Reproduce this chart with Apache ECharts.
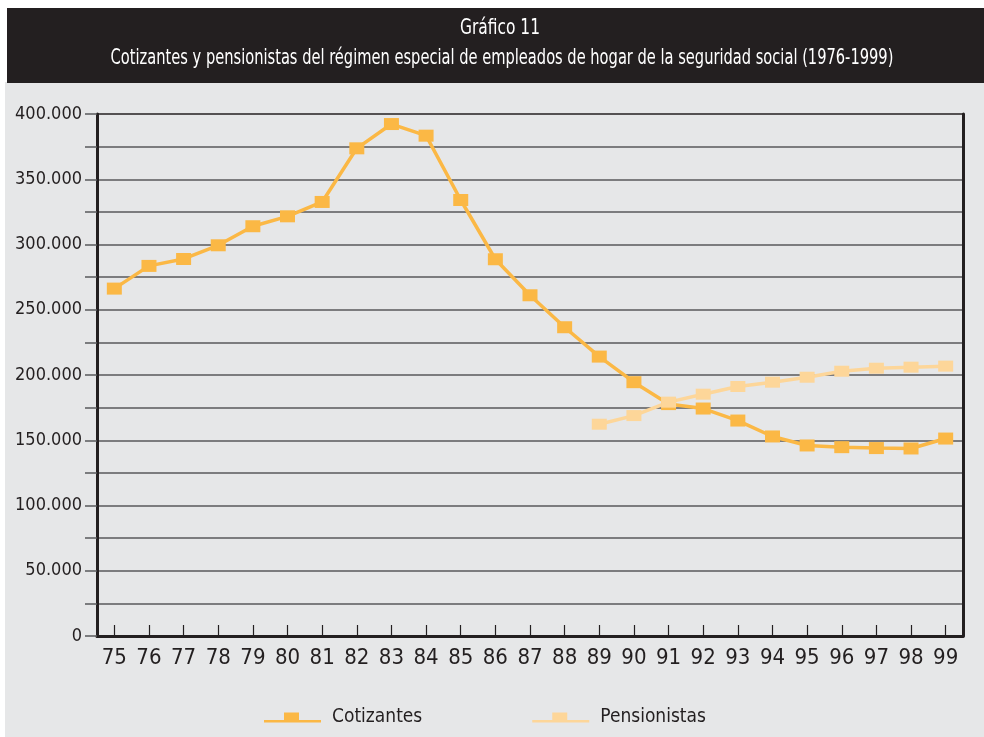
<!DOCTYPE html>
<html>
<head>
<meta charset="utf-8">
<script src="https://cdn.jsdelivr.net/npm/echarts@6/dist/echarts.min.js"></script>
<style>
  html, body { margin: 0; padding: 0; background: #ffffff; }
  #chart { width: 984px; height: 737px; }
</style>
</head>
<body>
<div id="chart"></div>
<script>
// Años (1975-1999) en el eje horizontal
const years = ['75','76','77','78','79','80','81','82','83','84','85','86','87','88','89','90','91','92','93','94','95','96','97','98','99'];

// Afiliados cotizantes al régimen especial de empleados de hogar
const cotizantes = [266200, 283600, 288900, 299400, 314000, 321600, 332600, 373700, 392300, 383400,
                    334100, 288700, 261100, 236600, 214100, 194500, 177700, 174300, 165100, 152900,
                    146000, 144700, 144000, 143700, 151300];

// Pensionistas del mismo régimen (serie disponible desde 1989)
const pensionistas = [null, null, null, null, null, null, null, null, null, null,
                      null, null, null, null, 162300, 168900, 179200, 185300, 191200, 194500,
                      198300, 202900, 205200, 206000, 206800];

const titleLine1 = 'Gráfico 11';
const titleLine2 = 'Cotizantes y pensionistas del régimen especial de empleados de hogar de la seguridad social (1976-1999)';

const FONT = "'DejaVu Sans Condensed', 'DejaVu Sans', sans-serif";
const INK = '#231f20';
const GRID = '#58595b';
const C_COT = '#fbb845';
const C_PEN = '#fdd699';

// legend key: a thin line with a square sitting on it
const LEGEND_ICON = 'path://M0,7.5L20,7.5L20,0L35,0L35,7.5L57,7.5L57,10L0,10Z';

const fmt = v => String(v).replace(/\B(?=(\d{3})+(?!\d))/g, '.');

// grid line colours, one per 25.000 step; the top line is drawn in black
const gridColors = [];
for (let i = 0; i <= 16; i++) gridColors.push(i === 16 ? INK : GRID);

const chart = echarts.init(document.getElementById('chart'), null, { renderer: 'canvas' });

chart.setOption({
  animation: false,
  backgroundColor: '#ffffff',
  textStyle: { fontFamily: FONT, color: INK },
  graphic: [
    { type: 'rect', z: -20, silent: true,
      shape: { x: 5, y: 82, width: 979, height: 655 },
      style: { fill: '#e6e7e8' } },
    { type: 'rect', z: -20, silent: true,
      shape: { x: 7, y: 8, width: 977, height: 75 },
      style: { fill: INK } },
    { type: 'text', z: 10, silent: true, x: 500, y: 28, scaleX: 0.78,
      style: { text: titleLine1, fill: '#ffffff', font: '22px ' + FONT,
               align: 'center', verticalAlign: 'middle' } },
    { type: 'text', z: 10, silent: true, x: 502, y: 58, scaleX: 0.74,
      style: { text: titleLine2, fill: '#ffffff', font: '22px ' + FONT,
               align: 'center', verticalAlign: 'middle' } }
  ],
  grid: { left: 97, right: 21, top: 114, bottom: 101, containLabel: false },
  legend: {
    top: 708, left: 264, padding: 0, itemGap: 110,
    itemWidth: 57, itemHeight: 10,
    textStyle: { fontFamily: FONT, fontSize: 19, color: INK, padding: [0, 0, 0, 6] },
    data: [
      { name: 'Cotizantes', icon: LEGEND_ICON },
      { name: 'Pensionistas', icon: LEGEND_ICON }
    ]
  },
  xAxis: {
    type: 'category',
    data: years,
    boundaryGap: true,
    axisLine: { show: true, lineStyle: { color: INK, width: 3 } },
    axisTick: { show: true, inside: true, alignWithLabel: true, length: 11,
                lineStyle: { color: INK, width: 1.2 } },
    axisLabel: { fontFamily: FONT, fontSize: 22, color: INK, margin: 11 },
    splitLine: { show: false }
  },
  yAxis: [
    {
      type: 'value', min: 0, max: 400000, interval: 25000,
      axisLine: { show: true, onZero: false, lineStyle: { color: INK, width: 3 } },
      axisTick: { show: true, length: 12, lineStyle: { color: GRID, width: 1.5 } },
      axisLabel: {
        fontFamily: FONT, fontSize: 18, color: INK, margin: 15,
        formatter: v => (v % 50000 === 0 ? fmt(v) : '')
      },
      splitLine: { show: true, lineStyle: { color: gridColors, width: 1.6 } }
    },
    {
      type: 'value', min: 0, max: 400000, interval: 25000, position: 'right',
      axisLine: { show: true, lineStyle: { color: INK, width: 3 } },
      axisTick: { show: false },
      axisLabel: { show: false },
      splitLine: { show: false }
    }
  ],
  series: [
    {
      name: 'Cotizantes', type: 'line', data: cotizantes,
      color: C_COT,
      lineStyle: { color: C_COT, width: 3.5 },
      itemStyle: { color: C_COT },
      symbol: 'rect', symbolSize: [15, 12], showAllSymbol: true
    },
    {
      name: 'Pensionistas', type: 'line', data: pensionistas,
      color: C_PEN, connectNulls: false,
      lineStyle: { color: C_PEN, width: 3.5 },
      itemStyle: { color: C_PEN },
      symbol: 'rect', symbolSize: [15, 11], showAllSymbol: true
    }
  ]
});
</script>
</body>
</html>
